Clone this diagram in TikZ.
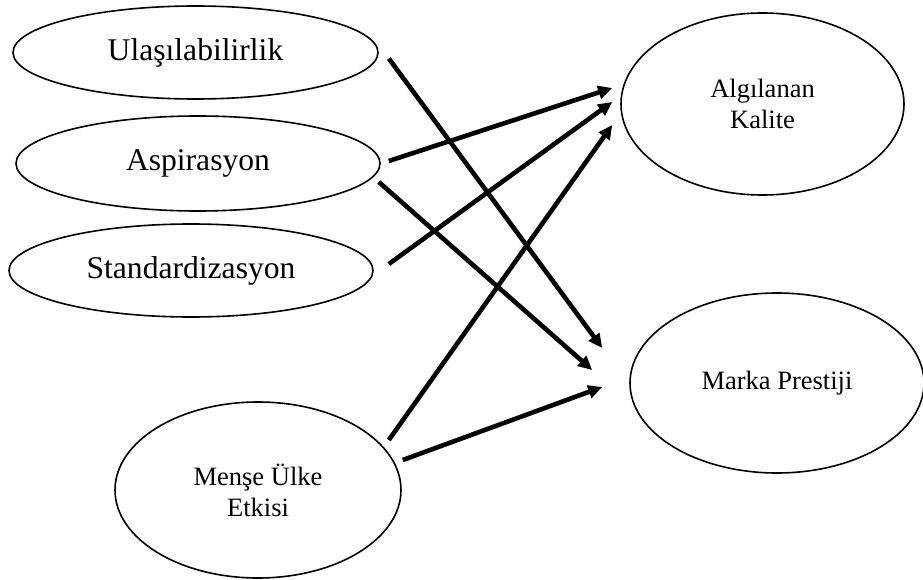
\documentclass[tikz,border=0pt]{standalone}
\usepackage{fontspec}
\setmainfont{Liberation Serif}
\usetikzlibrary{shapes.geometric,arrows.meta,calc}
\begin{document}
\begin{tikzpicture}[x=1pt,y=-1pt,
  construct/.style={ellipse,draw,line width=1.6pt,inner sep=0pt,align=center},
  bigtext/.style={font=\fontsize{31.6}{36}\selectfont},
  smalltext/.style={font=\fontsize{26.5}{31}\selectfont},
  link/.style={line width=4.6pt,-{Triangle[length=14pt,width=13pt]}}]
\useasboundingbox (0,0) rectangle (923,580);
% predictors
\node[construct,bigtext,minimum width=365pt,minimum height=93pt] (u) at (195.5,52.5) {Ulaşılabilirlik};
\node[construct,bigtext,minimum width=364pt,minimum height=95pt] (a) at (198,163.5) {Aspirasyon};
\node[construct,bigtext,minimum width=364pt,minimum height=93pt] (s) at (191,270.5) {Standardizasyon};
\node[construct,smalltext,minimum width=286pt,minimum height=176pt] (m) at (258,490) {Menşe Ülke\\Etkisi};
% outcomes
\node[construct,smalltext,minimum width=283pt,minimum height=182pt] (ak) at (762.5,104) {Algılanan\\Kalite};
\node[construct,smalltext,minimum width=294pt,minimum height=180pt] (mp) at (777,383) {Marka Prestiji};
% paths
\draw[link] ($(u.east)+(10,6)$) -- ($(mp.west)+(-27,-35)$);
\draw[link] ($(a.east)+(8,-2.5)$) -- ($(ak.west)+(-8,-16)$);
\draw[link] ($(a.east)+(-2,18.5)$) -- ($(mp.west)+(-37,-13)$);
\draw[link] ($(s.east)+(15,-6.5)$) -- ($(ak.west)+(-8,-2)$);
\draw[link] ($(m.east)+(-13,-50)$) -- ($(ak.west)+(-8,21)$);
\draw[link] ($(m.east)+(1,-30)$) -- ($(mp.west)+(-27,4)$);
\end{tikzpicture}
\end{document}
